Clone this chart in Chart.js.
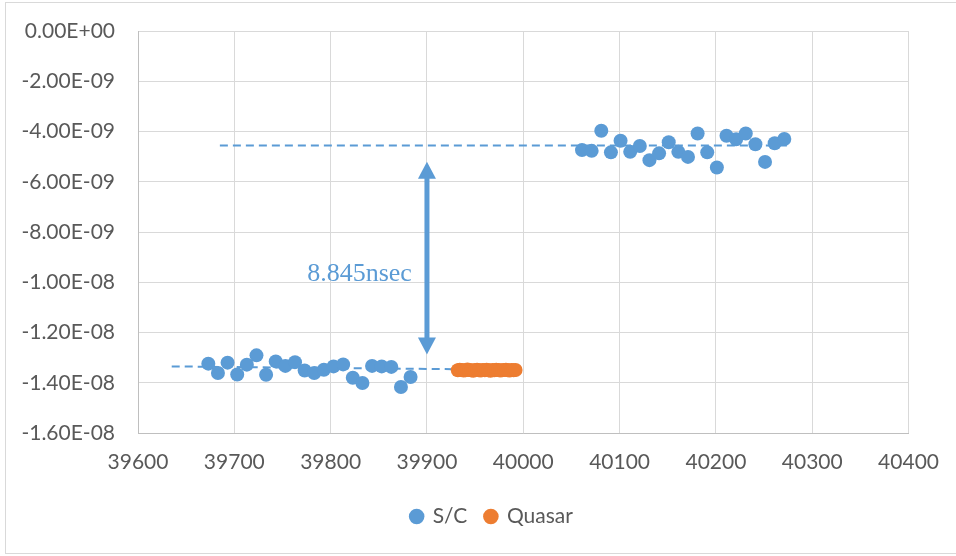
<!DOCTYPE html>
<html>
<head>
<meta charset="utf-8">
<script src="https://cdn.jsdelivr.net/npm/chart.js@4.4.0/dist/chart.umd.min.js"></script>
<style>
  html, body { margin: 0; padding: 0; background: #fff; }
  #wrap { width: 956px; height: 556px; }
</style>
</head>
<body>
<div id="wrap"><canvas id="timingChart" width="956" height="556"></canvas></div>
<script>
// S/C clock offset samples (MJD, seconds)
const scDaysA = [39673, 39683, 39693, 39703, 39713, 39723, 39733, 39743, 39753, 39763, 39773,
                 39783, 39793, 39803, 39813, 39823, 39833, 39843, 39853, 39863, 39873, 39883];
const scOffsetA = [-13.24e-9, -13.61e-9, -13.20e-9, -13.67e-9, -13.28e-9, -12.91e-9, -13.68e-9, -13.15e-9,
                   -13.33e-9, -13.18e-9, -13.51e-9, -13.61e-9, -13.48e-9, -13.35e-9, -13.27e-9, -13.80e-9,
                   -14.01e-9, -13.33e-9, -13.35e-9, -13.37e-9, -14.17e-9, -13.77e-9];
const scDaysB = [40061, 40071, 40081, 40091, 40101, 40111, 40121, 40131, 40141, 40151, 40161,
                 40171, 40181, 40191, 40201, 40211, 40221, 40231, 40241, 40251, 40261, 40271];
const scOffsetB = [-4.74e-9, -4.77e-9, -3.97e-9, -4.83e-9, -4.37e-9, -4.81e-9, -4.58e-9, -5.14e-9,
                   -4.87e-9, -4.43e-9, -4.81e-9, -5.01e-9, -4.08e-9, -4.83e-9, -5.43e-9, -4.17e-9,
                   -4.31e-9, -4.08e-9, -4.51e-9, -5.21e-9, -4.47e-9, -4.30e-9];

// Quasar reference samples
const quasarDays = [39932, 39934, 39936, 39938, 39940, 39942, 39944, 39946, 39948, 39950, 39952,
                    39954, 39956, 39958, 39960, 39962, 39964, 39966, 39968, 39970, 39972, 39974,
                    39976, 39978, 39980, 39982, 39984, 39986, 39988, 39990, 39992];
const quasarOffset = [-13.50e-9, -13.48e-9, -13.49e-9, -13.51e-9, -13.50e-9, -13.47e-9, -13.49e-9, -13.50e-9,
                      -13.52e-9, -13.49e-9, -13.48e-9, -13.50e-9, -13.51e-9, -13.49e-9, -13.50e-9, -13.48e-9,
                      -13.50e-9, -13.52e-9, -13.49e-9, -13.50e-9, -13.48e-9, -13.49e-9, -13.51e-9, -13.50e-9,
                      -13.49e-9, -13.48e-9, -13.50e-9, -13.51e-9, -13.49e-9, -13.50e-9, -13.49e-9];

// mean levels before / after the jump
const levelA = { x: [39635, 39930], y: [-13.35e-9, -13.46e-9] };
const levelB = { x: [39685, 40275], y: [-4.56e-9, -4.56e-9] };

// jump marker
const jumpX = 39900;
const jumpTop = -5.20e-9;
const jumpBottom = -12.88e-9;
const jumpLabel = '8.845nsec';
const jumpLabelAt = { x: 39830, y: -9.66e-9 };

const BLUE = '#5b9bd5';
const ORANGE = '#ed7d31';
const GREY_TEXT = '#595959';
const FONT = 'Lato, "Open Sans", sans-serif';
const legendShift = 37;

const toPts = (xs, ys) => xs.map((x, i) => ({ x: x, y: ys[i] }));

function sciLabel(v) {
    let s = Number(v).toExponential(2).toUpperCase();
    return s.replace(/E([+-])(\d)$/, 'E$10$2');
}

const jumpArrow = {
    id: 'jumpArrow',
    afterLayout(chart) {
        // legend sits a little right of centre
        chart.legend.left += legendShift;
        chart.legend.right += legendShift;
    },
    beforeDraw(chart) {
        const ctx = chart.ctx;
        ctx.save();
        ctx.fillStyle = '#fff';
        ctx.fillRect(0, 0, chart.width, chart.height);
        ctx.strokeStyle = '#d9d9d9';
        ctx.lineWidth = 1;
        ctx.strokeRect(5.5, 2.5, 960, 551);
        ctx.restore();
    },
    afterDatasetsDraw(chart) {
        const ctx = chart.ctx;
        const xs = chart.scales.x, ys = chart.scales.y;
        const x = xs.getPixelForValue(jumpX);
        const y1 = ys.getPixelForValue(jumpTop);
        const y2 = ys.getPixelForValue(jumpBottom);
        const head = 17, half = 9;
        ctx.save();
        ctx.strokeStyle = BLUE;
        ctx.fillStyle = BLUE;
        ctx.lineWidth = 5;
        ctx.beginPath();
        ctx.moveTo(x, y1 + head - 2);
        ctx.lineTo(x, y2 - head + 2);
        ctx.stroke();
        ctx.beginPath();
        ctx.moveTo(x, y1);
        ctx.lineTo(x - half, y1 + head);
        ctx.lineTo(x + half, y1 + head);
        ctx.closePath();
        ctx.fill();
        ctx.beginPath();
        ctx.moveTo(x, y2);
        ctx.lineTo(x - half, y2 - head);
        ctx.lineTo(x + half, y2 - head);
        ctx.closePath();
        ctx.fill();

        ctx.font = '26px "Liberation Serif", "DejaVu Serif", serif';
        ctx.textAlign = 'center';
        ctx.textBaseline = 'middle';
        ctx.fillText(jumpLabel, xs.getPixelForValue(jumpLabelAt.x), ys.getPixelForValue(jumpLabelAt.y));
        ctx.restore();
    }
};

const dashed = (lv) => ({
    label: '',
    data: toPts(lv.x, lv.y),
    showLine: true,
    borderColor: BLUE,
    borderWidth: 2,
    borderDash: [8, 5],
    pointRadius: 0,
    fill: false,
    order: 3
});

new Chart(document.getElementById('timingChart'), {
    type: 'scatter',
    data: {
        datasets: [
            {
                label: 'S/C',
                data: toPts(scDaysA, scOffsetA).concat(toPts(scDaysB, scOffsetB)),
                backgroundColor: BLUE,
                borderWidth: 0,
                pointRadius: 7,
                pointStyle: 'circle',
                order: 1
            },
            {
                label: 'Quasar',
                data: toPts(quasarDays, quasarOffset),
                backgroundColor: ORANGE,
                borderWidth: 0,
                pointRadius: 7,
                pointStyle: 'circle',
                order: 2
            },
            dashed(levelA),
            dashed(levelB)
        ]
    },
    options: {
        responsive: false,
        animation: false,
        events: [],
        layout: { padding: { left: 0, right: 46, top: 31, bottom: 19 } },
        scales: {
            x: {
                type: 'linear',
                min: 39600,
                max: 40400,
                ticks: {
                    stepSize: 100,
                    padding: 17,
                    color: GREY_TEXT,
                    font: { family: FONT, size: 21 },
                    callback: v => String(v)
                },
                grid: { color: '#d9d9d9', lineWidth: 1, drawTicks: false },
                border: { color: '#bfbfbf', width: 1 },
                afterFit: s => { s.height = 55; }
            },
            y: {
                min: -1.6e-8,
                max: 0,
                ticks: {
                    stepSize: 2e-9,
                    padding: 23,
                    color: GREY_TEXT,
                    font: { family: FONT, size: 21 },
                    callback: v => sciLabel(v)
                },
                grid: { color: '#d9d9d9', lineWidth: 1, drawTicks: false },
                border: { color: '#bfbfbf', width: 1 },
                afterFit: s => {
                    s.width = 138;
                    // tick padding should not push the plot down
                    s.paddingTop = 0;
                    s.paddingBottom = 0;
                }
            }
        },
        plugins: {
            tooltip: { enabled: false },
            legend: {
                position: 'bottom',
                labels: {
                    usePointStyle: true,
                    pointStyle: 'circle',
                    boxWidth: 11,
                    boxHeight: 11,
                    padding: 18,
                    color: GREY_TEXT,
                    font: { family: FONT, size: 21 },
                    filter: item => item.text !== ''
                }
            }
        }
    },
    plugins: [jumpArrow]
});
</script>
</body>
</html>
